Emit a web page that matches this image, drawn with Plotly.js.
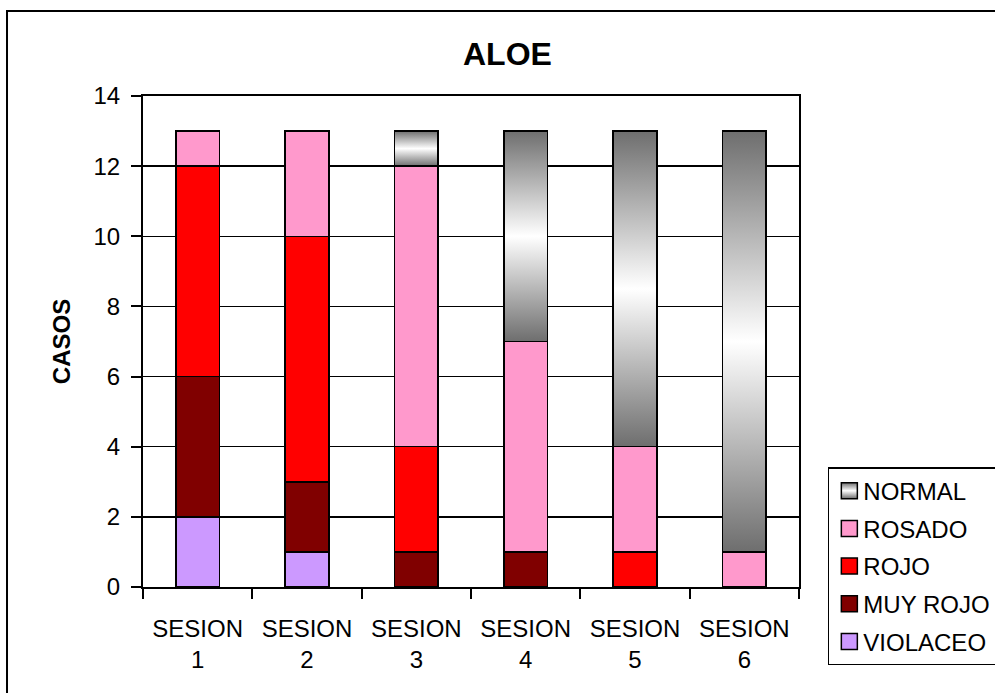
<!DOCTYPE html>
<html>
<head>
<meta charset="utf-8">
<script src="https://cdn.plot.ly/plotly-3.0.1.min.js"></script>
<style>html,body{margin:0;padding:0;background:#fff;}#chart{width:995px;height:693px;}</style>
</head>
<body>
<div id="chart"></div>
<script>
var categories = ["SESION<br>1","SESION<br>2","SESION<br>3","SESION<br>4","SESION<br>5","SESION<br>6"];
var seriesNames = ["VIOLACEO","MUY ROJO","ROJO","ROSADO","NORMAL"];
var violaceo = [2,1,0,0,0,0];
var muyRojo  = [4,2,1,1,0,0];
var rojo     = [6,7,3,0,1,0];
var rosado   = [1,3,8,6,3,1];
var normal   = [0,0,1,6,9,12];
var seriesValues = [violaceo, muyRojo, rojo, rosado, normal];
var seriesColors = ["#CC99FF","#800000","#FF0000","#FF99CC","#B0B0B0"];
var yTicks = [0,2,4,6,8,10,12,14];

var font = "Liberation Sans, Arial, sans-serif";
var traces = seriesNames.map(function(n,i){
  return {
    type:"bar", name:n, x:categories, y:seriesValues[i],
    legendgroup:n, legendrank:1000 - i,
    marker:{color:seriesColors[i], line:{color:"#000", width:1.5}},
    hoverinfo:"none"
  };
});

var layout = {
  width:995, height:693,
  margin:{l:143, r:196, t:96, b:106},
  paper_bgcolor:"#fff", plot_bgcolor:"#fff",
  barmode:"stack", bargap:0.6,
  font:{family:font, color:"#000", size:24},
  title:{text:"<b>ALOE</b>", font:{family:font, size:32, color:"#000"},
         xref:"container", x:0.51, xanchor:"center", yref:"container", y:0.923, yanchor:"middle"},
  xaxis:{showline:true, linecolor:"#000", linewidth:2, mirror:true,
         ticks:"outside", ticklen:10, tickwidth:2, tickcolor:"#000", tickson:"boundaries",
         ticklabelstandoff:19,
         tickfont:{family:font, size:24, color:"#000"}, showgrid:false, zeroline:false},
  yaxis:{range:[0,14], tickvals:yTicks, showline:true, linecolor:"#000", linewidth:2, mirror:true,
         ticks:"outside", ticklen:10, tickwidth:2, tickcolor:"#000", ticklabelstandoff:6,
         showgrid:true, gridcolor:"#000", gridwidth:1.5, zeroline:false,
         tickfont:{family:font, size:24, color:"#000"},
         title:{text:"<b>CASOS</b>", font:{family:font, size:24, color:"#000"}, standoff:16}},
  showlegend:true,
  legend:{traceorder:"grouped", tracegroupgap:3.5,
          xref:"container", yref:"container",
          x:0.832, xanchor:"left", y:0.326, yanchor:"top",
          bgcolor:"#fff", bordercolor:"#000", borderwidth:1.5,
          font:{family:font, size:24, color:"#000"}},
  shapes:[{type:"rect", xref:"paper", yref:"paper", x0:-0.2073, x1:1.5, y0:-0.5, y1:1.1731,
           line:{color:"#000", width:2}, fillcolor:"rgba(0,0,0,0)", layer:"below"}]
};

Plotly.newPlot("chart", traces, layout, {displayModeBar:false, staticPlot:true}).then(function(gd){
  var svgNS = "http://www.w3.org/2000/svg";
  var svg = gd.querySelector("svg.main-svg");
  var defs = svg.querySelector("defs") || svg.insertBefore(document.createElementNS(svgNS,"defs"), svg.firstChild);
  var g = document.createElementNS(svgNS,"linearGradient");
  g.setAttribute("id","normalGrad");
  g.setAttribute("x1","0"); g.setAttribute("y1","0"); g.setAttribute("x2","0"); g.setAttribute("y2","1");
  [["0","#6E6E6E"],["0.5","#FFFFFF"],["1","#6E6E6E"]].forEach(function(s){
    var st = document.createElementNS(svgNS,"stop");
    st.setAttribute("offset",s[0]); st.setAttribute("stop-color",s[1]);
    g.appendChild(st);
  });
  defs.appendChild(g);
  var idx = seriesNames.indexOf("NORMAL");
  var bars = gd.querySelectorAll(".barlayer .trace.bars");
  if (bars[idx]) bars[idx].querySelectorAll("path").forEach(function(p){ p.style.fill = "url(#normalGrad)"; });
  gd.querySelectorAll(".legend .traces").forEach(function(t){
    var txt = t.querySelector("text.legendtext");
    if (txt) txt.setAttribute("x", "34");
    t.querySelectorAll(".legendpoints path").forEach(function(p){
      p.setAttribute("d","M-8,-8H8V8H-8Z");
      if (txt && txt.textContent === "NORMAL") p.style.fill = "url(#normalGrad)";
    });
  });
});
</script>
</body>
</html>
